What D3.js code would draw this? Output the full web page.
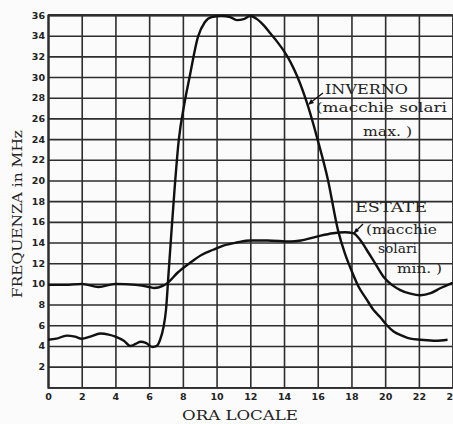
<!DOCTYPE html>
<html><head><meta charset="utf-8">
<script src="https://cdn.jsdelivr.net/npm/d3@7"></script>
<style>
html,body{margin:0;padding:0;background:#fbfbfb;}
svg{display:block;}
</style></head>
<body>
<svg id="c" width="453" height="424"></svg>
<script>
// ---- data ----
const xTicks = [0,2,4,6,8,10,12,14,16,18,20,22,24];
const yTicks = [2,4,6,8,10,12,14,16,18,20,22,24,26,28,30,32,34,36];
const winterHours = [0,0.5,1.1,1.6,2,2.5,3.1,3.6,4,4.5,4.9,5.2,5.5,5.8,6.2,6.45,6.65,6.85,7.0,7.15,7.3,7.5,7.75,8.1,8.4,8.9,9.3,9.7,10.3,10.8,11.2,11.6,12,12.4,12.8,13.2,13.6,14,14.4,14.8,15.4,16,16.6,17.2,17.6,17.9,18.4,18.9,19.3,19.7,20.1,20.5,21,21.5,22.1,23,23.7];
const winterFreq  = [4.6,4.7,5.0,4.9,4.7,4.9,5.2,5.1,4.9,4.5,4.0,4.2,4.4,4.3,3.9,4.0,4.6,5.8,7.5,11,14.5,19,23.8,27.5,30,33.9,35.3,35.8,35.9,35.8,35.5,35.6,35.9,35.6,35.0,34.2,33.4,32.5,31.4,30.0,27.3,23.9,20.1,15.2,13,11.7,9.8,8.5,7.5,6.8,6.0,5.4,5.0,4.7,4.6,4.5,4.6];
const summerHours = [0,1,2,3,4,5.2,6,6.3,6.8,7.1,7.7,8.4,9.1,9.8,10.4,11.2,12,13,14.4,15,16,16.9,17.6,18.1,18.5,18.9,19.4,19.9,20.4,20.9,21.5,22.1,22.7,23.3,24];
const summerFreq  = [9.9,9.9,10.0,9.7,10.0,9.9,9.7,9.6,9.8,10.1,11.1,12.0,12.8,13.3,13.7,14.0,14.2,14.2,14.1,14.2,14.6,14.9,15.0,14.9,14.3,13.3,12.0,10.7,9.9,9.4,9.05,8.9,9.1,9.6,10.1];
const xTitle = "ORA LOCALE";
const yTitle = "FREQUENZA in MHz";
const winterLabel = ["INVERNO","(macchie solari","max. )"];
const summerLabel = ["ESTATE","(macchie","solari","min. )"];

// ---- layout ----
const svg = d3.select("#c");
const L = 48, R = 452.6, T = 15, B = 387.3;
const x = d3.scaleLinear().domain([0,24]).range([L,R]);
const y = d3.scaleLinear().domain([0,36]).range([B,T]);
const gridCol = "#2e2e2e";

// grid + axes
const gx = svg.append("g").attr("transform",`translate(0,${B})`)
  .call(d3.axisBottom(x).tickValues(xTicks).tickSize(-(B-T)).tickFormat(d3.format("d")));
const gy = svg.append("g").attr("transform",`translate(${L},0)`)
  .call(d3.axisLeft(y).tickValues(yTicks).tickSize(-(R-L)).tickFormat(d3.format("d")));
svg.append("line").attr("x1",L).attr("x2",R).attr("y1",T).attr("y2",T)
  .attr("stroke",gridCol).attr("stroke-width",1.8);
[gx,gy].forEach(g=>{
  g.select(".domain").attr("stroke",gridCol).attr("stroke-width",1.8);
  g.selectAll(".tick line").attr("stroke",gridCol).attr("stroke-width",1.6);
  g.selectAll(".tick text").attr("font-family","DejaVu Sans").attr("font-weight","bold")
    .attr("font-size","9.5px").attr("fill","#222");
});
gx.selectAll(".tick text").attr("y",6);
gy.selectAll(".tick text").attr("x",-3);

// curves
const line = d3.line().x(d=>x(d[0])).y(d=>y(d[1])).curve(d3.curveMonotoneX);
const winter = winterHours.map((h,i)=>[h,winterFreq[i]]);
const summer = summerHours.map((h,i)=>[h,summerFreq[i]]);
[summer,winter].forEach(s=>{
  svg.append("path").datum(s).attr("d",line).attr("fill","none")
    .attr("stroke","#111").attr("stroke-width",2.4).attr("stroke-linejoin","round");
});

// annotations
const annFont = "DejaVu Serif";
function addLines(lines, specs){
  lines.forEach((t,i)=>{
    const s = specs[i];
    svg.append("text").attr("x",s[0]).attr("y",s[1]).attr("textLength",s[2])
      .attr("lengthAdjust","spacingAndGlyphs")
      .attr("font-family",annFont).attr("font-size","12.5px").attr("fill","#222").text(t);
  });
}
addLines(winterLabel, [[325,94,83],[316,112,131],[363,136,49]]);
addLines(summerLabel, [[355,212,72],[366,234,71],[378,253,39],[397,273,45]]);
svg.append("line").attr("x1",323).attr("y1",93).attr("x2",310).attr("y2",103)
  .attr("stroke","#111").attr("stroke-width",1.3);
svg.append("path").attr("d","M308,105 L311,99 L314,103 Z").attr("fill","#111");
svg.append("line").attr("x1",363).attr("y1",224).attr("x2",355).attr("y2",232)
  .attr("stroke","#111").attr("stroke-width",1.3);
svg.append("path").attr("d","M353,234 L356,228 L359,231 Z").attr("fill","#111");

// axis titles
svg.append("text").attr("x",182).attr("y",420).attr("textLength",116)
  .attr("lengthAdjust","spacingAndGlyphs")
  .attr("font-family","DejaVu Serif").attr("font-size","13px").attr("fill","#222").text(xTitle);
svg.append("text").attr("transform","translate(22,298) rotate(-90)").attr("textLength",168)
  .attr("lengthAdjust","spacingAndGlyphs")
  .attr("font-family","DejaVu Serif").attr("font-size","13px").attr("fill","#222").text(yTitle);
</script>
</body></html>
